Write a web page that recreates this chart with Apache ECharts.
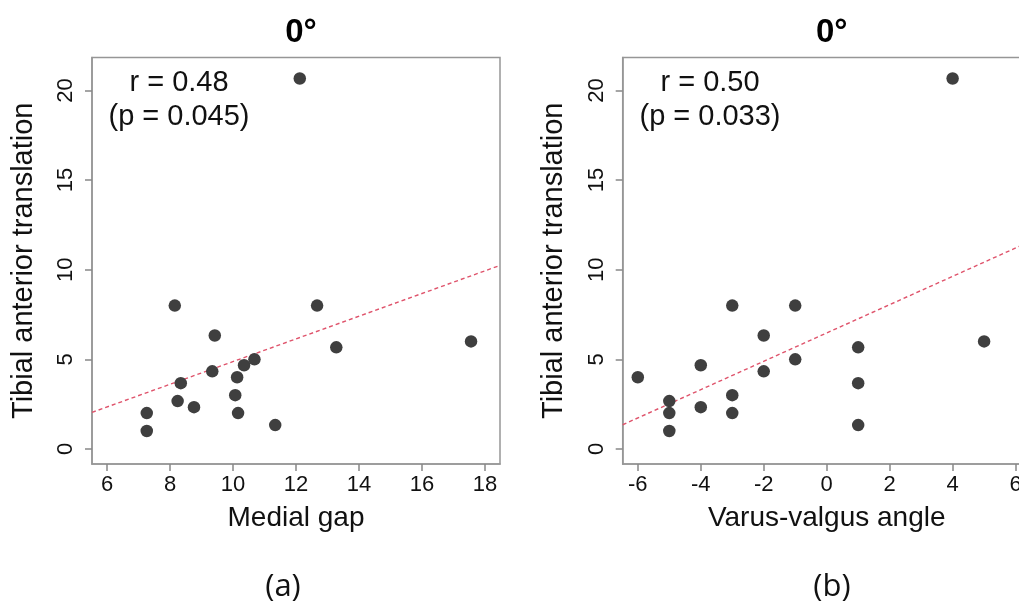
<!DOCTYPE html>
<html>
<head>
<meta charset="utf-8">
<script src="https://cdn.jsdelivr.net/npm/echarts@6/dist/echarts.min.js"></script>
<style>
  html, body { margin: 0; padding: 0; background: #fff; }
  #chart { width: 1019px; height: 603px; }
</style>
</head>
<body>
<div id="chart"></div>
<script>
// panel (a): medial gap vs tibial anterior translation
var gapX = [7.26, 7.26, 8.15, 8.24, 8.34, 8.76, 9.34, 9.42, 10.07, 10.13, 10.16, 10.35, 10.68, 11.34, 12.67, 13.28, 17.56, 12.12];
var gapY = [2, 1, 8, 2.67, 3.67, 2.33, 4.33, 6.33, 3, 4, 2, 4.67, 5, 1.33, 8, 5.67, 6, 20.67];
var gapFit = [[5.52, 2.04], [18.48, 10.24]];

// panel (b): varus-valgus angle vs tibial anterior translation
var angleX = [-6, -5, -5, -5, -4, -4, -3, -3, -3, -2, -2, -1, -1, 1, 1, 1, 5, 4];
var angleY = [4, 2.67, 2, 1, 4.67, 2.33, 8, 3, 2, 6.33, 4.33, 8, 5, 5.67, 3.67, 1.33, 6, 20.67];
var angleFit = [[-6.48, 1.35], [6.48, 11.59]];

var yTicks = [0, 5, 10, 15, 20];
var gapTicks = [6, 8, 10, 12, 14, 16, 18];
var angleTicks = [-6, -4, -2, 0, 2, 4, 6];

var titles = ['0°', '0°'];
var rLabels = ['r = 0.48', 'r = 0.50'];
var pLabels = ['(p = 0.045)', '(p = 0.033)'];
var xNames = ['Medial gap', 'Varus-valgus angle'];
var yName = 'Tibial anterior translation';
var panelTags = ['(a)', '(b)'];

function pairs(xs, ys) {
    var out = [];
    for (var i = 0; i < xs.length; i++) {
        out.push([xs[i], ys[i]]);
    }
    return out;
}

var font = 'Liberation Sans, Arial, sans-serif';
var boxColor = '#969696';

function xAxisFor(idx, min, max, ticks, name) {
    return {
        gridIndex: idx,
        type: 'value',
        min: min,
        max: max,
        name: name,
        nameLocation: 'middle',
        nameGap: 40,
        nameTextStyle: { fontFamily: font, fontSize: 28, color: '#111' },
        axisLine: { show: true, onZero: false, lineStyle: { color: boxColor, width: 1.5 } },
        splitLine: { show: false },
        axisTick: { show: true, inside: false, length: 7, lineStyle: { color: '#888', width: 1.5 }, customValues: ticks },
        axisLabel: { fontFamily: font, fontSize: 22, color: '#111', margin: 10, customValues: ticks }
    };
}

function yAxisFor(idx) {
    return {
        gridIndex: idx,
        type: 'value',
        min: -0.84,
        max: 21.84,
        name: yName,
        nameLocation: 'middle',
        nameGap: 54,
        nameRotate: 90,
        nameTextStyle: { fontFamily: font, fontSize: 29, color: '#111' },
        axisLine: { show: true, onZero: false, lineStyle: { color: boxColor, width: 1.5 } },
        splitLine: { show: false },
        axisTick: { show: true, inside: false, length: 7, lineStyle: { color: '#888', width: 1.5 }, customValues: yTicks },
        axisLabel: { fontFamily: font, fontSize: 22, color: '#111', rotate: 90, margin: 15, customValues: yTicks }
    };
}

var gridCenters = [296, 826.7];

var chart = echarts.init(document.getElementById('chart'));
var option = {
    backgroundColor: '#fff',
    animation: false,
    title: [
        { text: titles[0], left: gridCenters[0], top: 11, textAlign: 'center',
          textStyle: { fontFamily: font, fontSize: 33, fontWeight: 'bold', color: '#000' } },
        { text: titles[1], left: gridCenters[1], top: 11, textAlign: 'center',
          textStyle: { fontFamily: font, fontSize: 33, fontWeight: 'bold', color: '#000' } },
        { text: panelTags[0], left: 278, top: 567, textAlign: 'center',
          textStyle: { fontFamily: 'Open Sans, Noto Sans, sans-serif', fontSize: 31, fontWeight: 'normal', color: '#111' } },
        { text: panelTags[1], left: 827, top: 567, textAlign: 'center',
          textStyle: { fontFamily: 'Open Sans, Noto Sans, sans-serif', fontSize: 31, fontWeight: 'normal', color: '#111' } }
    ],
    graphic: [
        { type: 'text', x: 179, y: 66, style: { text: rLabels[0] + '\n' + pLabels[0], textAlign: 'center', lineHeight: 34, font: '29px ' + font, fill: '#111' } },
        { type: 'text', x: 710, y: 66, style: { text: rLabels[1] + '\n' + pLabels[1], textAlign: 'center', lineHeight: 34, font: '29px ' + font, fill: '#111' } }
    ],
    grid: [
        { left: 92, top: 57.5, width: 408, height: 406.5, show: true, borderColor: boxColor, borderWidth: 1.5, outerBoundsMode: 'none' },
        { left: 622.7, top: 57.5, width: 408, height: 406.5, show: true, borderColor: boxColor, borderWidth: 1.5, outerBoundsMode: 'none' }
    ],
    xAxis: [
        xAxisFor(0, 5.52, 18.48, gapTicks, xNames[0]),
        xAxisFor(1, -6.48, 6.48, angleTicks, xNames[1])
    ],
    yAxis: [yAxisFor(0), yAxisFor(1)],
    series: [
        {
            type: 'line', xAxisIndex: 0, yAxisIndex: 0, data: gapFit, showSymbol: false, z: 1,
            lineStyle: { color: '#DF536B', width: 1.4, type: [4, 3] }
        },
        {
            type: 'scatter', xAxisIndex: 0, yAxisIndex: 0, data: pairs(gapX, gapY), symbolSize: 12.5, z: 2,
            itemStyle: { color: '#3f3f3f', opacity: 1 }
        },
        {
            type: 'line', xAxisIndex: 1, yAxisIndex: 1, data: angleFit, showSymbol: false, z: 1,
            lineStyle: { color: '#DF536B', width: 1.4, type: [4, 3] }
        },
        {
            type: 'scatter', xAxisIndex: 1, yAxisIndex: 1, data: pairs(angleX, angleY), symbolSize: 12.5, z: 2,
            itemStyle: { color: '#3f3f3f', opacity: 1 }
        }
    ]
};
chart.setOption(option);
</script>
</body>
</html>
